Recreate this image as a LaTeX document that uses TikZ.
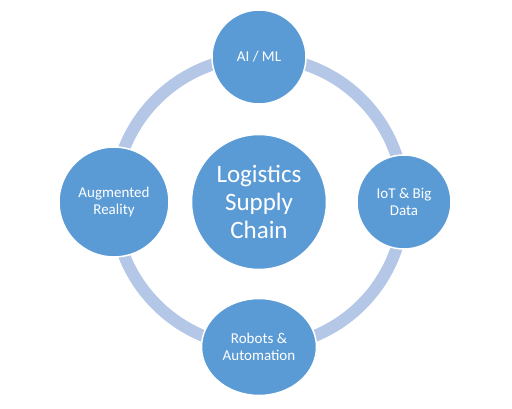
\documentclass[tikz,border=0pt]{standalone}
\usepackage{fontspec}
\setmainfont{Carlito}
\usepackage{tikz}
\usetikzlibrary{shapes.geometric,backgrounds,positioning}
\definecolor{topicblue}{HTML}{5B9BD5}
\definecolor{ringblue}{HTML}{B4C7E7}

\begin{document}
\begin{tikzpicture}[x=1pt,y=1pt]
            \tikzstyle{topic}=[circle, fill=topicblue, draw=white, line width=1.5pt, text=white, align=center, inner sep=0pt, font=\fontsize{15}{16.5}\selectfont]
            \tikzstyle{ring}=[draw=ringblue, line width=12pt]
            \useasboundingbox (-259,-207) rectangle (253,202);
            \node[topic, minimum size=135pt, font=\fontsize{25}{28}\selectfont] (hub) at (0,0) {Logistics\\Supply\\Chain};
            \node[topic, minimum size=94pt] (ai) at (0,145) {AI / ML};
            \node[topic, minimum size=94pt] (iot) at (145,0) {IoT \& Big\\Data};
            \node[topic, ellipse, minimum width=115pt, minimum height=97pt] (robots) at (0,-145) {Robots \&\\Automation};
            \node[topic, minimum size=110pt] (ar) at (-145,0) {Augmented\\Reality};
            % ring behind the topics
            \begin{scope}[on background layer]
              \path[ring] (ai.center) to[bend left=45] (iot.center)
                          to[bend left=45] (robots.center)
                          to[bend left=45] (ar.center)
                          to[bend left=45] (ai.center);
            \end{scope}
          \end{tikzpicture}
\end{document}
